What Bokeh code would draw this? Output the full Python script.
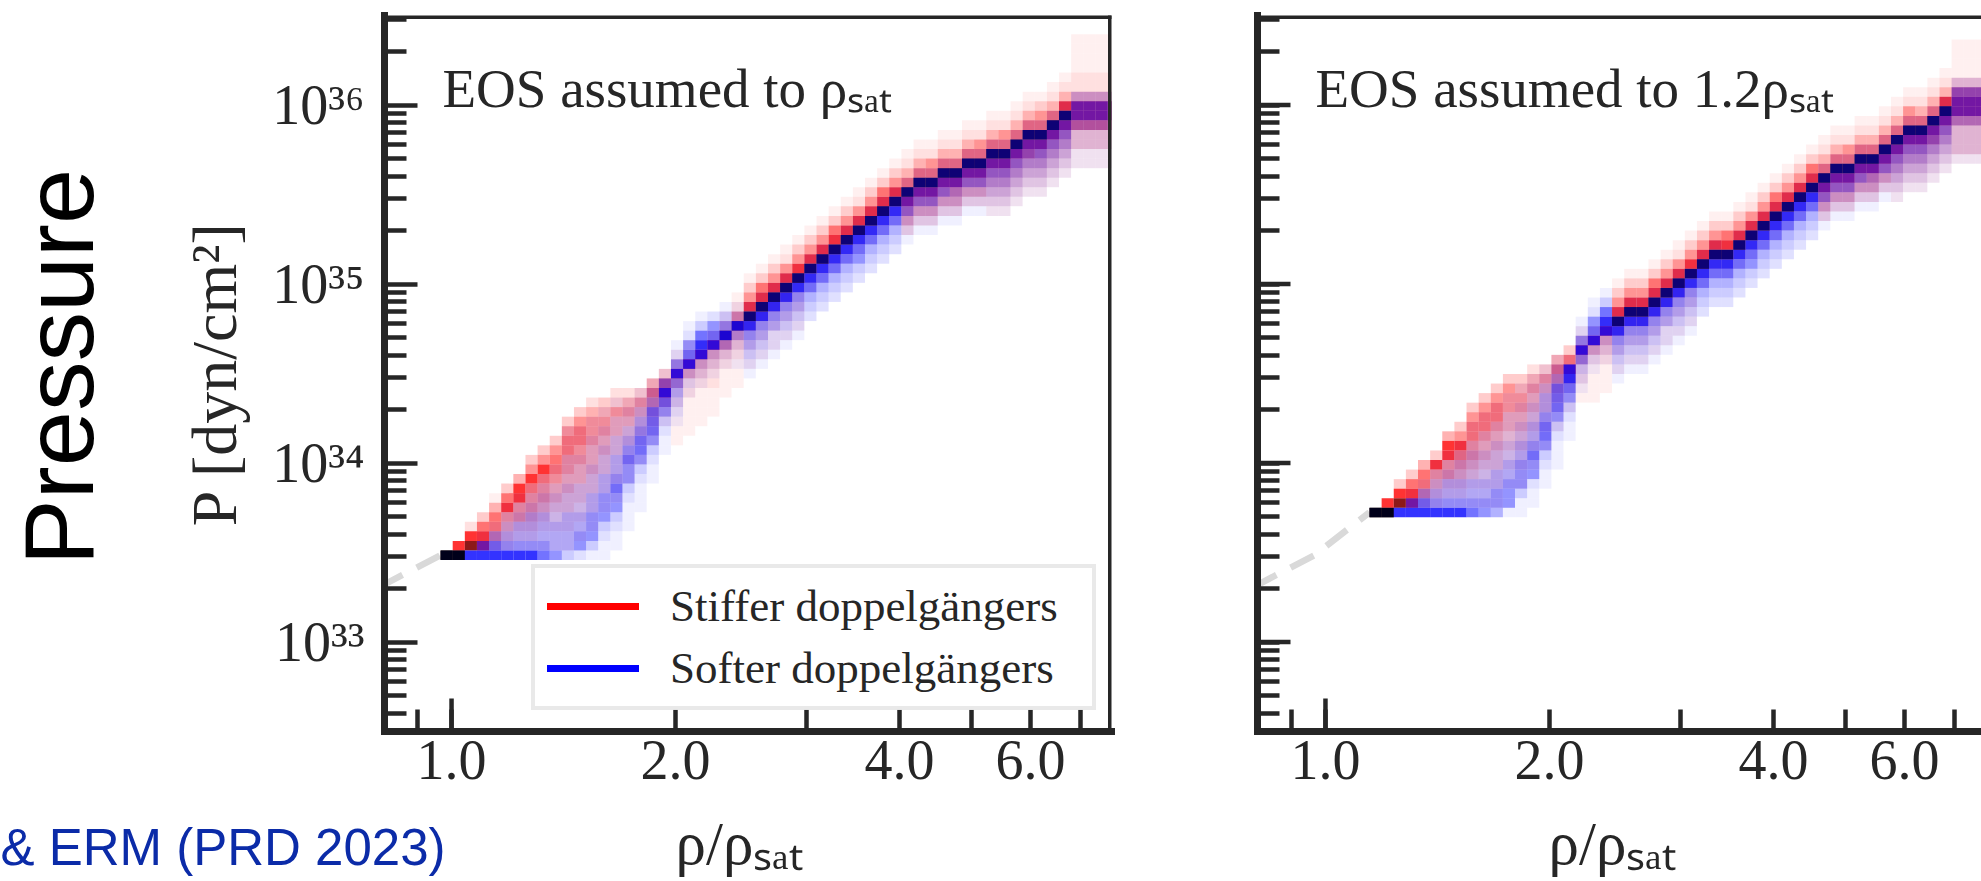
import math
from bokeh.plotting import figure
from bokeh.layouts import row, column
from bokeh.core.properties import value
from bokeh.models import (Range1d, FixedTicker, CustomJSTickFormatter, Label,
                          Legend, LegendItem, Span, ColumnDataSource)
from bokeh.embed import file_html
from bokeh.resources import INLINE

# ---------------------------------------------------------------- texts
PANEL_TITLES = ["EOS assumed to ρₛₐₜ", "EOS assumed to 1.2ρₛₐₜ"]
X_LABEL = "ρ/ρₛₐₜ"
Y_LABEL = "P [dyn/cm²]"
SERIES_LABELS = ["Stiffer doppelgängers", "Softer doppelgängers"]
SIDE_TITLE = "Pressure"
CITATION = "& ERM (PRD 2023)"

# ---------------------------------------------------------------- ticks
X_TICKS = [1.0, 2.0, 4.0, 6.0]
X_TICK_LABELS = ["1.0", "2.0", "4.0", "6.0"]
X_MINOR_TICKS = [0.9, 3.0, 5.0, 7.0]
Y_TICKS = [1e33, 1e34, 1e35, 1e36]
Y_TICK_LABELS = ["10³³", "10³⁴", "10³⁵", "10³⁶"]
Y_MINOR_TICKS = [m * 10.0 ** e for e in (32, 33, 34, 35, 36) for m in range(2, 10)]

Y_RANGE = (10 ** 32.5, 10 ** 36.5)
X_RANGE_LEFT = (0.8126, 7.711)
X_RANGE_RIGHT = (0.8103, 7.617)

# ---------------------------------------------------------------- crust EOS (dashed, grey)
CRUST_RHO = [0.80, 0.966, 1.146]
CRUST_P = [2.03e33, 3.05e33, 5.30e33]

# ---------------------------------------------------------------- 2-D histogram bins
BIN_DLOG_RHO = 0.0163          # bin width in log10(rho/rho_sat)
BIN_DLOG_P = 0.0534            # bin height in log10(P)
LEFT_ORIGIN = (0.9666, 2.87e33)   # lower-left corner of first bin (rho/rho_sat, P)
RIGHT_ORIGIN = (1.146, 4.97e33)

# one entry per density bin: (first pressure bin, density levels 0-9 going upward)
LEFT_STIFF = [
    (0, "9"), (0, "97"), (1, "872"), (1, "7763"), (1, "356641"),
    (1, "2345763"), (1, "12355774"), (1, "1234556753"), (1, "11234556753"),
    (1, "112234456653"), (1, "11223344556653"), (1, "011223344556653"),
    (2, "011223344455542"), (4, "0112233445543"), (6, "112223344532"),
    (8, "1122334542"), (10, "11233453"), (12, "1234564"), (14, "124763"),
    (12, "1111224731"), (13, "1111224721"), (14, "111123472"), (15, "111223472"),
    (17, "111235831"), (18, "1112348521"),
    (20, "1122487531"), (21, "1122487631"), (22, "1122487531"), (23, "1122487521"),
    (24, "1122387531"),
    (28, "1387531"), (29, "1387531"), (30, "1387631"), (31, "1387531"),
    (32, "1387521"), (33, "1387531"), (34, "1387631"), (35, "1387531"),
    (34, "245786421"), (35, "245786421"), (35, "245786521"), (36, "245786421"),
    (36, "245786421"), (37, "245786421"), (37, "245786521"),
    (36, "12345786421"), (36, "12345786521"), (37, "12345786421"), (38, "12346786421"),
    (38, "12345786531"), (39, "12345786421"), (40, "12345787421"),
    (41, "11336774221111"), (41, "11336774221111"), (41, "11336774221111"),
    (41, "11336774221111"),
]
LEFT_SOFT = [
    (0, "9"), (0, "9"), (0, "7"), (0, "761"), (0, "7641"),
    (0, "754321"), (0, "7544321"), (0, "75444321"), (0, "654443321"),
    (0, "5444333211"), (0, "34444333222111"), (0, "255443332221110"),
    (0, "135554433322211"), (0, "1123555443332211"), (1, "1123556544332211"),
    (3, "11123556543221"), (5, "1112356654321"), (8, "11235666431"), (11, "112356751"),
    (14, "123457521"), (17, "12376521"), (18, "12377631"), (19, "1237652"),
    (20, "1247531"), (20, "1124731"),
    (19, "12345782"), (20, "12345782"), (21, "12245782"), (22, "12345782"),
    (23, "12345781"),
    (25, "2346782"), (26, "2346782"), (27, "2346781"), (28, "2346782"),
    (29, "2356782"), (30, "2346782"), (31, "2346782"), (32, "2346782"),
    (33, "1235682"), (34, "1235682"), (34, "1235682"), (35, "1235682"),
    (35, "1234682"), (36, "1235682"), (36, "1235682"),
    (36, "12345682"), (36, "12345682"), (37, "12345682"), (38, "12345682"),
    (38, "12345682"), (39, "12345682"), (40, "12345682"),
    (41, "11224663"), (41, "11224663"), (41, "11224663"), (41, "11224663"),
]
RIGHT_STIFF = [
    (0, "9"), (0, "97"), (1, "873"), (1, "7763"), (1, "35664"),
    (1, "234573"), (1, "12355774"), (1, "123456753"), (1, "11234556653"),
    (1, "112234456653"), (1, "1122334456653"), (2, "0112233445553"),
    (3, "112233445543"), (5, "11223344542"), (7, "112233453"), (9, "11234564"),
    (11, "1124763"), (12, "11224731"), (12, "11112472"), (13, "11123472"),
    (15, "1122487531"), (16, "1122487531"),
    (16, "1122487531"), (17, "1122487631"), (18, "1122487531"), (19, "1122487521"),
    (20, "1122387531"),
    (24, "1387531"), (25, "1387531"), (25, "1387631"), (26, "1387531"),
    (27, "1387521"), (28, "1387531"), (29, "1387631"), (30, "1387531"),
    (31, "1387531"), (32, "1387631"),
    (31, "245786421"), (32, "245786421"), (32, "245786521"), (33, "245786421"),
    (33, "245786421"), (34, "245786421"),
    (33, "12345786421"), (34, "12345786521"), (34, "12345786421"), (35, "12346786421"),
    (36, "12345787421"),
    (37, "1333577631111"), (37, "1333577631111"), (37, "1333577631111"),
]
RIGHT_SOFT = [
    (0, "9"), (0, "9"), (0, "7"), (0, "761"), (0, "7641"),
    (0, "754321"), (0, "7544321"), (0, "75443321"), (0, "6544333211"),
    (0, "55443332211"), (0, "455443332211"), (0, "1555443322211"),
    (0, "11355544332211"), (1, "11255654433221"), (3, "1123566544321"),
    (5, "111235666431"), (8, "112356771"), (13, "12357521"), (15, "12376521"),
    (16, "12377631"),
    (14, "12345782"), (15, "12345782"),
    (15, "12345782"), (16, "12345782"), (17, "12245782"), (18, "12345782"),
    (19, "12345781"),
    (21, "2346782"), (22, "2346782"), (22, "2346781"), (23, "2346782"),
    (24, "2356782"), (25, "2346782"), (26, "2346782"), (27, "2346782"),
    (28, "2346782"), (29, "2346782"),
    (30, "1235682"), (31, "1235682"), (31, "1235682"), (32, "1235682"),
    (32, "1234682"), (33, "1235682"),
    (33, "12345682"), (34, "12345682"), (34, "12345682"), (35, "12345682"),
    (36, "12345682"),
    (37, "122246652"), (37, "122246652"), (37, "122246652"),
]

# ---------------------------------------------------------------- styles / layout
INK = "#262626"
SERIF = "Liberation Serif"
SANS = "Liberation Sans"
LEVEL_ALPHA = [0.0, 0.06, 0.12, 0.2, 0.3, 0.42, 0.55, 0.8, 0.9, 1.0]
LEVEL_SHADE = [1.0, 1.0, 1.0, 1.0, 1.0, 1.0, 1.0, 1.0, 0.5, 0.1]
TOTAL_W, TOTAL_H = 1981, 881
STRIP_H = 76                       # bottom text strip
SIDE_W = 150                       # left text strip
PANEL_H = TOTAL_H - STRIP_H
BORDER_TOP = 15
BORDER_BOTTOM = 74
FRAME_H = PANEL_H - BORDER_TOP - BORDER_BOTTOM
P1_W, P1_BL, P1_BR = 1036, 234, 75
P2_W, P2_BL, P2_BR = TOTAL_W - SIDE_W - 1036, 71, 0
LONG_TICK_PX = 33
TITLE_BASELINE_PX = 107            # from the top of the page
BASELINE_FIX = 0.34                # rendered baseline sits this many em below the anchor
ROTATED_START_FIX = 53             # rotated text starts this many px above its anchor


def cell_source(columns, origin, channel):
    rho0, p0 = origin
    d = dict(left=[], right=[], bottom=[], top=[], color=[], alpha=[])
    for c, (r0, levels) in enumerate(columns):
        for i, ch in enumerate(levels):
            lv = int(ch)
            if lv == 0:
                continue
            r = r0 + i
            d["left"].append(rho0 * 10 ** (c * BIN_DLOG_RHO))
            d["right"].append(rho0 * 10 ** ((c + 1) * BIN_DLOG_RHO))
            d["bottom"].append(p0 * 10 ** (r * BIN_DLOG_P))
            d["top"].append(p0 * 10 ** ((r + 1) * BIN_DLOG_P))
            v = int(round(255 * LEVEL_SHADE[lv]))
            rgb = (v, 0, 0) if channel == "red" else (0, 0, v)
            d["color"].append("#%02x%02x%02x" % rgb)
            d["alpha"].append(LEVEL_ALPHA[lv])
    return ColumnDataSource(d)


def tick_formatter(values, labels):
    return CustomJSTickFormatter(args=dict(tv=values, tl=labels), code="""
        let best = -1, bd = 1e9;
        for (let i = 0; i < tv.length; i++) {
            const dd = Math.abs(Math.log(tick) - Math.log(tv[i]));
            if (dd < bd) { bd = dd; best = i; }
        }
        return (best >= 0 && bd < 1e-6) ? tl[best] : "";
    """)


def style_ticks(ax):
    ax.axis_line_color = INK
    ax.axis_line_width = 7
    ax.axis_line_cap = "square"
    ax.major_tick_out = 0
    ax.minor_tick_out = 0
    ax.minor_tick_in = 22
    ax.major_tick_line_color = INK
    ax.minor_tick_line_color = INK
    ax.major_tick_line_width = 4.5
    ax.minor_tick_line_width = 4.5


def make_panel(width, border_left, border_right, x_range, title, stiff, soft,
               origin, crust_n, first):
    p = figure(width=width, height=PANEL_H, title=None,
               x_axis_type="log", y_axis_type="log",
               x_range=Range1d(*x_range), y_range=Range1d(*Y_RANGE),
               output_backend="svg", toolbar_location=None,
               min_border_left=border_left, min_border_right=border_right,
               min_border_top=BORDER_TOP, min_border_bottom=BORDER_BOTTOM)
    p.outline_line_color = None
    p.grid.visible = False
    p.background_fill_color = "white"
    p.border_fill_color = "white"

    frame_w = width - border_left - border_right
    px_per_dec_y = FRAME_H / (math.log10(Y_RANGE[1]) - math.log10(Y_RANGE[0]))
    px_per_dec_x = frame_w / (math.log10(x_range[1]) - math.log10(x_range[0]))

    # crust EOS, dashed grey
    p.line(CRUST_RHO[:crust_n], CRUST_P[:crust_n], line_color="#d9d9d9",
           line_width=6.5, line_dash="26 16")

    # stiffer (red) under softer (blue)
    p.quad(left="left", right="right", bottom="bottom", top="top",
           source=cell_source(stiff, origin, "red"),
           fill_color="color", fill_alpha="alpha", line_color=None)
    p.quad(left="left", right="right", bottom="bottom", top="top",
           source=cell_source(soft, origin, "blue"),
           fill_color="color", fill_alpha="alpha", line_color=None)

    # longer major tick at rho = 1.0
    p.segment(x0=[X_TICKS[0]], x1=[X_TICKS[0]], y0=[Y_RANGE[0]],
              y1=[Y_RANGE[0] * 10 ** (LONG_TICK_PX / px_per_dec_y)],
              line_color=INK, line_width=4.5)

    # x axis
    xa = p.xaxis[0]
    style_ticks(xa)
    xa.ticker = FixedTicker(ticks=X_TICKS, minor_ticks=X_MINOR_TICKS)
    xa.formatter = tick_formatter(X_TICKS, X_TICK_LABELS)
    xa.major_tick_in = 22
    xa.major_label_text_font = SERIF
    xa.major_label_text_font_size = "56px"
    xa.major_label_text_color = INK
    xa.major_label_standoff = 9

    # y axis
    ya = p.yaxis[0]
    style_ticks(ya)
    if first:
        ya.ticker = FixedTicker(ticks=Y_TICKS, minor_ticks=Y_MINOR_TICKS)
        ya.formatter = tick_formatter(Y_TICKS, Y_TICK_LABELS)
        ya.major_tick_in = 33
        ya.major_label_text_font = SERIF
        ya.major_label_text_color = INK
        ya.major_label_text_font_size = "56px"
        ya.major_label_standoff = 20
        ya.axis_label = Y_LABEL
        ya.axis_label_text_font = SERIF
        ya.axis_label_text_font_size = "64px"
        ya.axis_label_text_font_style = "normal"
        ya.axis_label_text_color = INK
        ya.axis_label_standoff = 19
    else:
        # unlabeled: decades drawn as longer tick segments
        ya.ticker = FixedTicker(ticks=[], minor_ticks=Y_MINOR_TICKS + Y_TICKS)
        n = len(Y_TICKS)
        p.segment(x0=[x_range[0]] * n,
                  x1=[x_range[0] * 10 ** (LONG_TICK_PX / px_per_dec_x)] * n,
                  y0=Y_TICKS, y1=Y_TICKS, line_color=INK, line_width=4.5)

    # top / right spines
    p.add_layout(Span(location=Y_RANGE[1], dimension="width", line_color=INK,
                      line_width=7, line_cap="square"))
    if first:
        p.add_layout(Span(location=x_range[1], dimension="height", line_color=INK,
                          line_width=7, line_cap="square"))

    # panel title
    fs = 55
    p.add_layout(Label(x=58,
                       y=FRAME_H - (TITLE_BASELINE_PX - BORDER_TOP) + BASELINE_FIX * fs,
                       x_units="screen", y_units="screen",
                       text=title, text_font=SERIF, text_font_size=f"{fs}px",
                       text_color=INK, text_baseline="alphabetic"))
    return p


p1 = make_panel(P1_W, P1_BL, P1_BR, X_RANGE_LEFT, PANEL_TITLES[0], LEFT_STIFF, LEFT_SOFT,
                LEFT_ORIGIN, 2, True)
p2 = make_panel(P2_W, P2_BL, P2_BR, X_RANGE_RIGHT, PANEL_TITLES[1], RIGHT_STIFF, RIGHT_SOFT,
                RIGHT_ORIGIN, 3, False)

# legend (left panel); proxy lines carry no visible data
nan2 = [float("nan")] * 2
r_stiff = p1.line(x=nan2, y=nan2, line_color="#ff0000", line_width=7, line_cap="round")
r_soft = p1.line(x=nan2, y=nan2, line_color="#0000ff", line_width=7, line_cap="round")
legend = Legend(items=[LegendItem(label=SERIES_LABELS[0], renderers=[r_stiff]),
                       LegendItem(label=SERIES_LABELS[1], renderers=[r_soft])],
                location=(147, 21), margin=0, padding=12, spacing=10,
                glyph_width=92, glyph_height=30, label_standoff=31,
                label_width=410)
legend.label_text_font = SERIF
legend.label_text_font_size = "45px"
legend.label_text_color = INK
legend.border_line_color = "#d4d4d4"
legend.border_line_width = 4
legend.background_fill_color = "white"
legend.background_fill_alpha = 0.85
p1.add_layout(legend)


def text_strip(width, height):
    s = figure(width=width, height=height, title=None,
               x_range=Range1d(0, width), y_range=Range1d(0, height),
               x_axis_location=None, y_axis_location=None,
               output_backend="svg", toolbar_location=None,
               min_border=0)
    s.outline_line_color = None
    s.grid.visible = False
    s.background_fill_color = "white"
    s.border_fill_color = "white"
    return s


# left strip: big slide title, reading upward from its lower end (page y = 565)
side = text_strip(SIDE_W, PANEL_H)
fs_side = 99
side.text(x=[95 - BASELINE_FIX * fs_side - 3],
          y=[PANEL_H - 565 - ROTATED_START_FIX], text=[SIDE_TITLE],
          angle=math.pi / 2, text_font=value(SANS), text_font_size=f"{fs_side}px",
          text_color="black", text_align="left", text_baseline="alphabetic")

# bottom strip: x-axis titles and citation
bottom = text_strip(TOTAL_W, STRIP_H)
fs_x = 61
x_starts = [675, 675 + (SIDE_W + P1_W + P2_BL) - (SIDE_W + P1_BL)]
bottom.text(x=x_starts, y=[TOTAL_H - 864 + BASELINE_FIX * fs_x] * 2, text=[X_LABEL] * 2,
            text_font=value(SERIF), text_font_size=f"{fs_x}px", text_color=INK,
            text_align="left", text_baseline="alphabetic")
fs_c = 51
bottom.text(x=[445], y=[TOTAL_H - 864 + BASELINE_FIX * fs_c], text=[CITATION],
            text_font=value(SANS), text_font_size=f"{fs_c}px", text_color="#0b2ba8",
            text_align="right", text_baseline="alphabetic")

layout = column(row(side, p1, p2), bottom)
open("out.html", "w").write(file_html(layout, INLINE))
